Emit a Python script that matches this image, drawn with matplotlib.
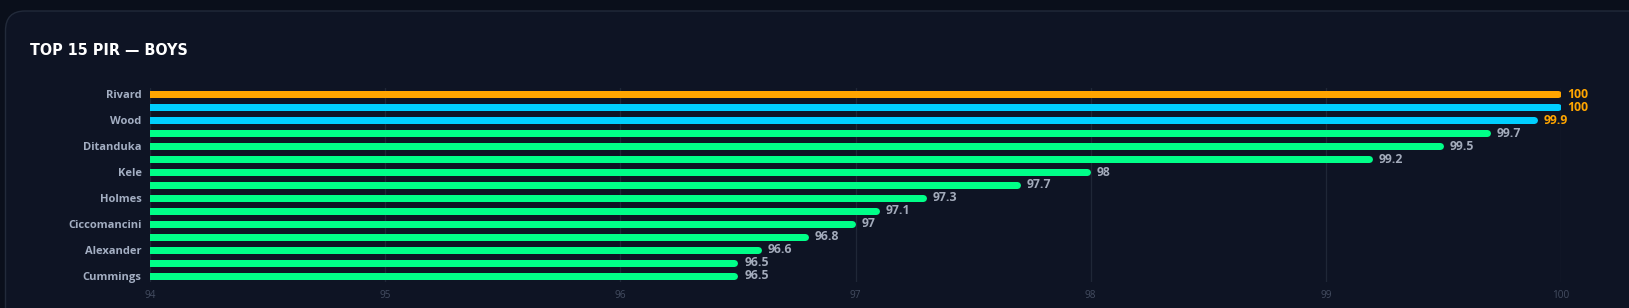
import matplotlib
matplotlib.use("Agg")
import matplotlib.pyplot as plt
from matplotlib.patches import FancyBboxPatch

# data (hidden labels left blank)
names = ["Rivard", "", "Wood", "", "Ditanduka", "", "Kele", "", "Holmes", "",
         "Ciccomancini", "", "Alexander", "", "Cummings"]
pir = [100, 100, 99.9, 99.7, 99.5, 99.2, 98, 97.7, 97.3, 97.1, 97, 96.8, 96.6, 96.5, 96.5]
xticks = [94, 95, 96, 97, 98, 99, 100]

W, H = 1629, 308
fig = plt.figure(figsize=(W / 100, H / 100), dpi=100)
fig.patch.set_facecolor("#0a0f1b")

# card
card = FancyBboxPatch((5.5 / W, -0.2), 1.2, (H - 11) / H + 0.2,
                      boxstyle="round,pad=0,rounding_size=0.012",
                      transform=fig.transFigure, facecolor="#0e1424",
                      edgecolor="#222a3a", linewidth=1.0, mutation_aspect=W / H,
                      zorder=-5)
fig.patches.append(card)

fig.text(30 / W, 1 - 50.5 / H, "TOP 15 PIR — BOYS", color="white",
         fontsize=11.5, fontweight="heavy", fontstretch="condensed",
         family="DejaVu Sans", va="center", ha="left")

left, right = 150 / W, 1561 / W
bottom, top = 1 - 282 / H, 1 - 88 / H
ax = fig.add_axes([left, bottom, right - left, top - bottom])
ax.set_facecolor("none")
ax.set_xlim(94, 100)
ax.set_ylim(len(pir) - 0.5, -0.5)

# bar colours: leader orange, next two cyan, rest green
colors = ["#ffa500"] + ["#00cfff"] * 2 + ["#00ff88"] * (len(pir) - 3)
lab_colors = ["#ffa500"] * 3 + ["#a3abbb"] * (len(pir) - 3)

lw_px = 7
px_per_unit = (right - left) * W / 6
r = (lw_px / 2) / px_per_unit
y = list(range(len(pir)))
for i, v in enumerate(pir):
    ax.hlines(i, 93.5, v - r, color=colors[i], linewidth=lw_px * 0.72,
              capstyle="round", zorder=3)
    ax.annotate(f"{v:g}", (v, i), xytext=(4.5, 0), textcoords="offset points",
                va="center", ha="left", color=lab_colors[i], fontsize=8.8,
                fontweight="bold", family="Open Sans", annotation_clip=False)

ax.set_xticks(xticks)
ax.set_xticklabels([str(t) for t in xticks])
ax.grid(axis="x", color="#1f2737", linewidth=0.9, zorder=0)
ax.tick_params(axis="x", length=0, pad=6, labelsize=7.2, labelcolor="#434c60")
ax.set_yticks([i for i in y if names[i]])
ax.set_yticklabels([n for n in names if n])
ax.tick_params(axis="y", length=0, pad=6, labelsize=8.0, labelcolor="#a3aec2")
for lbl in ax.get_yticklabels():
    lbl.set_fontweight("bold")
    lbl.set_family("Open Sans")
for lbl in ax.get_xticklabels():
    lbl.set_family("Open Sans")
for s in ax.spines.values():
    s.set_visible(False)

fig.savefig("out.png", dpi=100, facecolor=fig.get_facecolor())
